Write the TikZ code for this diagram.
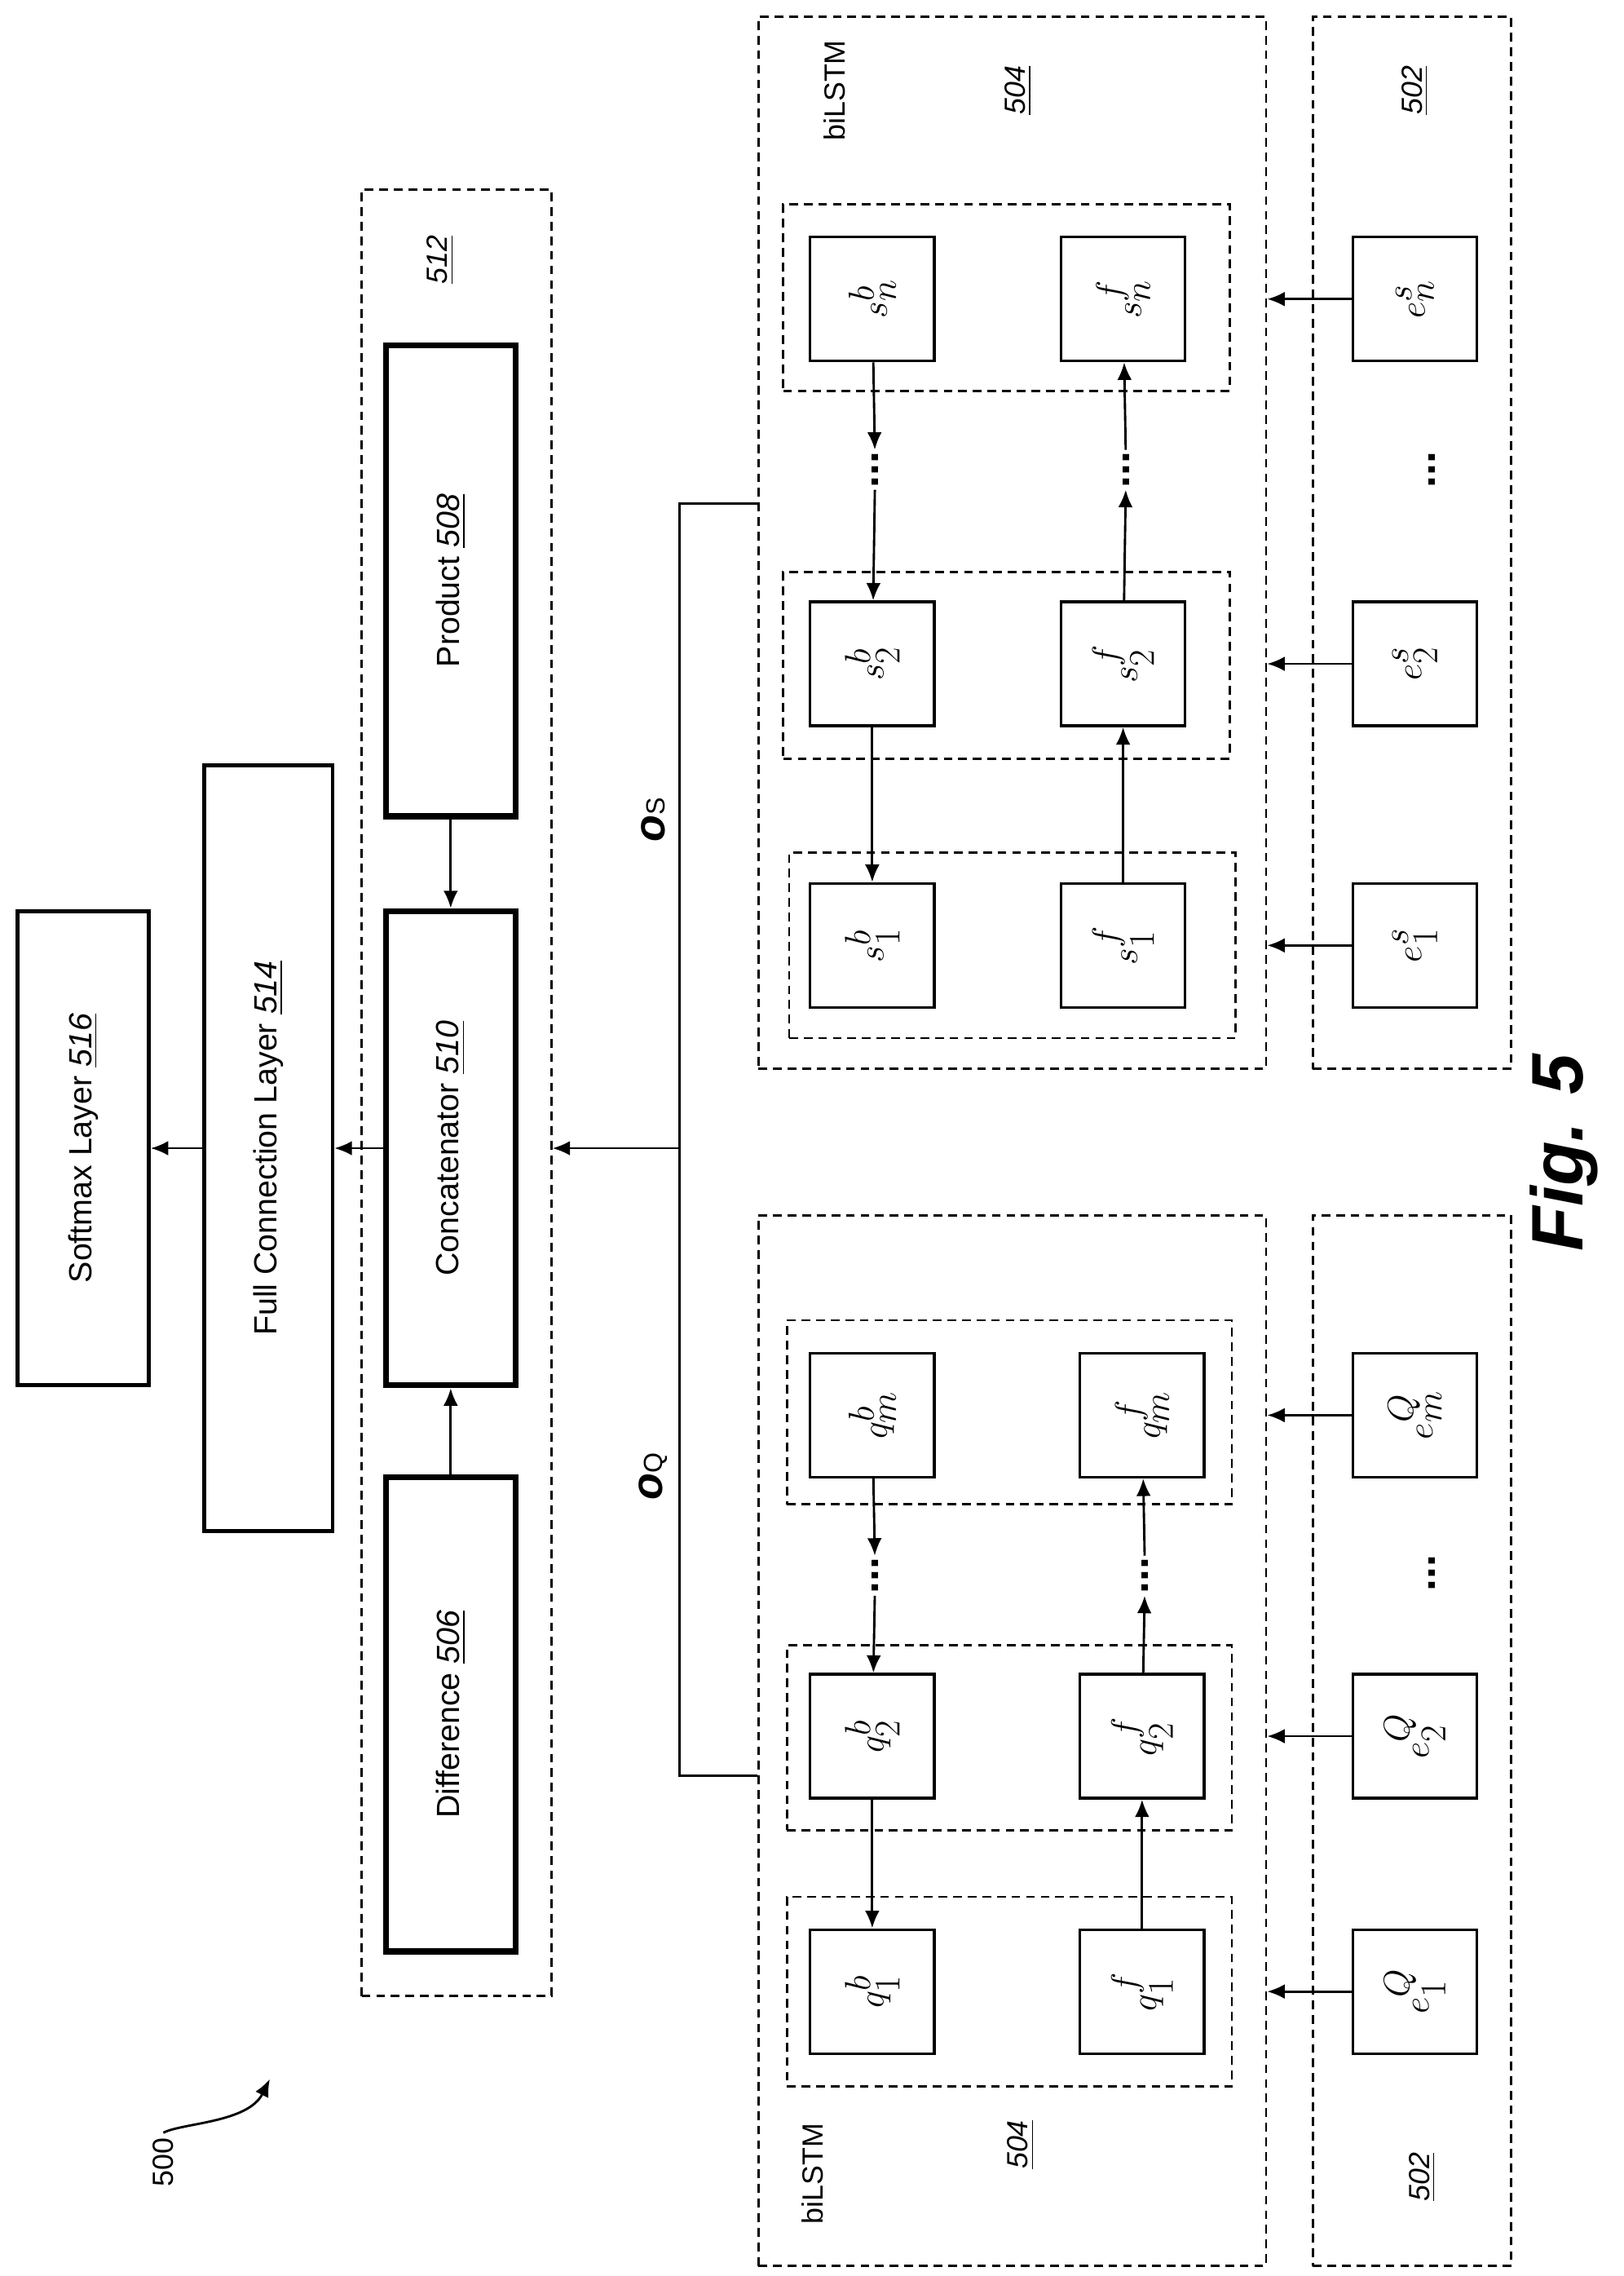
\documentclass[tikz,border=0pt]{standalone}
\usepackage{amsmath}
\usepackage{fontspec}
\setmainfont{Liberation Sans}
\usetikzlibrary{arrows.meta}
\newcommand{\ul}[1]{\underline{\textit{#1}}}
\begin{document}
\begin{tikzpicture}[x=1pt,y=-1pt,
  thin/.style={line width=1.6pt},
  thick box/.style={draw,line width=4pt,inner sep=0pt},
  plain box/.style={draw,line width=2.6pt,inner sep=0pt},
  sbox/.style={draw,line width=1.8pt,minimum width=85pt,minimum height=85pt,inner sep=0pt,font=\fontsize{40}{42}\selectfont},
  dbox/.style={draw,dashed,line width=1.5pt,dash pattern=on 6pt off 4pt,inner sep=0pt},
  arr/.style={line width=1.6pt,-{Latex[length=12pt,width=10pt]}},
  lab/.style={font=\fontsize{22}{24}\selectfont},
  num/.style={font=\fontsize{20}{22}\selectfont},
  dots/.style={font=\fontsize{30}{32}\selectfont\bfseries,inner sep=1pt}]
\useasboundingbox (0,0) rectangle (1113,1560);
% left column
\node[plain box,minimum width=90pt,minimum height=325pt,lab] (soft) at (57,787) {\rotatebox{90}{Softmax Layer \ul{516}}};
\node[plain box,minimum width=88pt,minimum height=525pt,lab] (full) at (184,787) {\rotatebox{90}{Full Connection Layer \ul{514}}};
\node[dbox,minimum width=130pt,minimum height=1238pt] (d512) at (313,749) {};
\node[num] (n512) at (302,178) {\rotatebox{90}{\ul{512}}};
\node[thick box,minimum width=89pt,minimum height=323pt,lab] (prod) at (309,398) {\rotatebox{90}{Product \ul{508}}};
\node[thick box,minimum width=89pt,minimum height=325pt,lab] (conc) at (309,787) {\rotatebox{90}{Concatenator \ul{510}}};
\node[thick box,minimum width=89pt,minimum height=325pt,lab] (diff) at (309,1175) {\rotatebox{90}{Difference \ul{506}}};
\draw[arr] (prod) -- (conc);
\draw[arr] (diff) -- (conc);
\draw[arr] (conc) -- (full);
\draw[arr] (full) -- (soft);
% containers
\node[dbox,minimum width=348pt,minimum height=721pt] (top504) at (694,372) {};
\node[dbox,minimum width=136pt,minimum height=721pt] (top502) at (968,372) {};
\node[dbox,minimum width=348pt,minimum height=720pt] (bot504) at (694,1193) {};
\node[dbox,minimum width=136pt,minimum height=720pt] (bot502) at (968,1193) {};
\node[num] (tb) at (572,62) {\rotatebox{90}{biLSTM}};
\node[num] (t504) at (698,62) {\rotatebox{90}{\ul{504}}};
\node[num] (t502) at (970,62) {\rotatebox{90}{\ul{502}}};
\node[num] (bb) at (557,1490) {\rotatebox{90}{biLSTM}};
\node[num] (b504) at (700,1470) {\rotatebox{90}{\ul{504}}};
\node[num] (b502) at (975,1492) {\rotatebox{90}{\ul{502}}};
% bus
\coordinate (bs) at (top504.west |- 0,345);
\coordinate (bq) at (bot504.west |- 0,1217);
\coordinate (j) at (466,787);
\draw[thin] (bs) -- (466,345) -- (466,1217) -- (bq);
\draw[arr] (j) -- (d512.east |- j);
\node[font=\fontsize{30}{32}\selectfont\bfseries\itshape] (os) at (448,562) {\rotatebox{90}{o\fontsize{18}{20}\selectfont\upshape\mdseries S}};
\node[font=\fontsize{30}{32}\selectfont\bfseries\itshape] (oq) at (448,1012) {\rotatebox{90}{o\fontsize{18}{20}\selectfont\upshape\mdseries Q}};
% s groups
\node[dbox,minimum width=306pt,minimum height=128pt] (gn) at (690,204) {};
\node[dbox,minimum width=306pt,minimum height=128pt] (g2) at (690,456) {};
\node[dbox,minimum width=306pt,minimum height=127pt] (g1) at (694,648) {};
\node[sbox] (sbn) at (598,205) {\rotatebox{90}{$s^b_n$}};
\node[sbox] (sfn) at (770,205) {\rotatebox{90}{$s^f_n$}};
\node[sbox] (sb2) at (598,455) {\rotatebox{90}{$s^b_2$}};
\node[sbox] (sf2) at (770,455) {\rotatebox{90}{$s^f_2$}};
\node[sbox] (sb1) at (598,648) {\rotatebox{90}{$s^b_1$}};
\node[sbox] (sf1) at (770,648) {\rotatebox{90}{$s^f_1$}};
\node[sbox] (esn) at (970,205) {\rotatebox{90}{$e^s_n$}};
\node[sbox] (es2) at (970,455) {\rotatebox{90}{$e^s_2$}};
\node[sbox] (es1) at (970,648) {\rotatebox{90}{$e^s_1$}};
\node[dots] (dsb) at (600,322) {\rotatebox{90}{...}};
\node[dots] (dsf) at (772,322) {\rotatebox{90}{...}};
\node[dots] (dse) at (982,322) {\rotatebox{90}{...}};
\draw[arr] (sbn) -- (dsb);
\draw[arr] (dsb) -- (sb2);
\draw[arr] (sb2) -- (sb1);
\draw[arr] (sf1) -- (sf2);
\draw[arr] (sf2) -- (dsf);
\draw[arr] (dsf) -- (sfn);
\draw[arr] (esn) -- (esn -| top504.east);
\draw[arr] (es2) -- (es2 -| top504.east);
\draw[arr] (es1) -- (es1 -| top504.east);
% q groups
\node[dbox,minimum width=305pt,minimum height=126pt] (hm) at (692,968) {};
\node[dbox,minimum width=305pt,minimum height=127pt] (h2) at (692,1191) {};
\node[dbox,minimum width=305pt,minimum height=130pt] (h1) at (692,1365) {};
\node[sbox] (qbm) at (598,970) {\rotatebox{90}{$q^b_m$}};
\node[sbox] (qfm) at (783,970) {\rotatebox{90}{$q^f_m$}};
\node[sbox] (qb2) at (598,1190) {\rotatebox{90}{$q^b_2$}};
\node[sbox] (qf2) at (783,1190) {\rotatebox{90}{$q^f_2$}};
\node[sbox] (qb1) at (598,1365) {\rotatebox{90}{$q^b_1$}};
\node[sbox] (qf1) at (783,1365) {\rotatebox{90}{$q^f_1$}};
\node[sbox] (eqm) at (970,970) {\rotatebox{90}{$e^Q_m$}};
\node[sbox] (eq2) at (970,1190) {\rotatebox{90}{$e^Q_2$}};
\node[sbox] (eq1) at (970,1365) {\rotatebox{90}{$e^Q_1$}};
\node[dots] (dqb) at (600,1080) {\rotatebox{90}{...}};
\node[dots] (dqf) at (785,1080) {\rotatebox{90}{...}};
\node[dots] (dqe) at (982,1078) {\rotatebox{90}{...}};
\draw[arr] (qbm) -- (dqb);
\draw[arr] (dqb) -- (qb2);
\draw[arr] (qb2) -- (qb1);
\draw[arr] (qf1) -- (qf2);
\draw[arr] (qf2) -- (dqf);
\draw[arr] (dqf) -- (qfm);
\draw[arr] (eqm) -- (eqm -| bot504.east);
\draw[arr] (eq2) -- (eq2 -| bot504.east);
\draw[arr] (eq1) -- (eq1 -| bot504.east);
% figure label and 500
\node[font=\fontsize{50}{52}\selectfont\bfseries\itshape] (fig) at (1072,790) {\rotatebox{90}{Fig. 5}};
\node[num] (n500) at (112,1482) {\rotatebox{90}{500}};
\coordinate (a500) at (185,1425);
\draw[arr] (n500.north) .. controls (125,1455) and (170,1455) .. (a500);
\end{tikzpicture}
\end{document}
